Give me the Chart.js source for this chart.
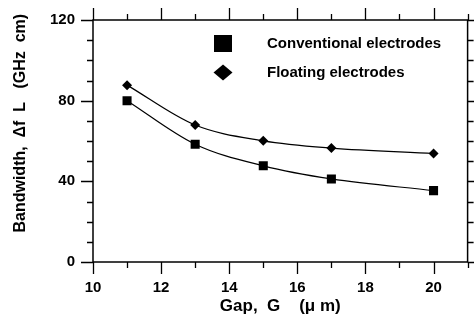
<!DOCTYPE html>
<html><head><meta charset="utf-8">
<script src="https://cdn.jsdelivr.net/npm/chart.js@4/dist/chart.umd.min.js"></script>
<style>html,body{margin:0;padding:0;background:#fff}#wrap{width:474px;height:324px}</style>
</head><body><div id="wrap"><canvas id="c" width="474" height="324"></canvas></div>
<script>
const gapUm = [11, 13, 15, 17, 20];
const conventional = [80.0, 58.4, 47.7, 41.2, 35.4];
const floating = [87.7, 67.9, 60.1, 56.5, 53.8];
const xTickLabels = [10, 12, 14, 16, 18, 20];
const yTickLabels = [0, 40, 80, 120];
const seriesNames = ['Conventional electrodes', 'Floating electrodes'];
const xTitle = 'Gap,  G    (\u03bc m)';
const yTitle = '        Bandwidth,  \u0394f  L   (GHz  cm)';

const FONT = '"Liberation Sans", Arial, sans-serif';
const CLEAR = 'rgba(0,0,0,0)';

const framePlugin = {
  id: 'frame',
  afterDraw(chart) {
    const {ctx, chartArea: a, scales: {x, y}} = chart;
    ctx.save();
    ctx.strokeStyle = '#000';
    ctx.lineWidth = 1.5;
    ctx.strokeRect(a.left, a.top, a.right - a.left, a.bottom - a.top);
    ctx.lineWidth = 1.3;
    ctx.beginPath();
    for (let v = x.min; v <= x.max + 1e-9; v += 1) {
      const px = Math.round(x.getPixelForValue(v)) + 0.5;
      const len = (v % 2 === 0) ? 12 : 6;
      ctx.moveTo(px, a.bottom); ctx.lineTo(px, a.bottom + len);
      ctx.moveTo(px, a.top); ctx.lineTo(px, a.top - len);
    }
    for (let v = y.min; v <= y.max + 1e-9; v += 10) {
      const py = Math.round(y.getPixelForValue(v)) + 0.5;
      const len = (v % 40 === 0) ? 12 : 6;
      ctx.moveTo(a.left, py); ctx.lineTo(a.left - len, py);
      ctx.moveTo(a.right, py); ctx.lineTo(a.right + len, py);
    }
    ctx.stroke();

    // legend inside plot
    const mx = a.left + 130, tx = a.left + 174;
    const rows = [a.top + 23.5, a.top + 52.5];
    ctx.fillStyle = '#000';
    ctx.fillRect(mx - 9, rows[0] - 8.5, 18, 17);
    ctx.beginPath();
    ctx.moveTo(mx - 9.5, rows[1]);
    ctx.lineTo(mx, rows[1] - 8);
    ctx.lineTo(mx + 9.5, rows[1]);
    ctx.lineTo(mx, rows[1] + 8);
    ctx.closePath();
    ctx.fill();
    ctx.font = 'bold 15px ' + FONT;
    ctx.textBaseline = 'middle';
    ctx.textAlign = 'left';
    chart.data.datasets.forEach((ds, i) => ctx.fillText(ds.label, tx, rows[i] + 0.5));
    ctx.restore();
  }
};

new Chart(document.getElementById('c'), {
  type: 'line',
  data: {
    datasets: [
      {
        label: seriesNames[0],
        data: gapUm.map((g, i) => ({x: g, y: conventional[i]})),
        borderColor: '#000', backgroundColor: '#000', borderWidth: 1.2,
        pointStyle: 'rect', pointRadius: 6.4, pointBorderWidth: 0,
        cubicInterpolationMode: 'monotone', fill: false
      },
      {
        label: seriesNames[1],
        data: gapUm.map((g, i) => ({x: g, y: floating[i]})),
        borderColor: '#000', backgroundColor: '#000', borderWidth: 1.2,
        pointStyle: 'rectRot', pointRadius: 5, pointBorderWidth: 0,
        cubicInterpolationMode: 'monotone', fill: false
      }
    ]
  },
  options: {
    responsive: false, animation: false, devicePixelRatio: 1,
    layout: {padding: {top: 20, right: 6, left: 0, bottom: 0}},
    plugins: {legend: {display: false}, tooltip: {enabled: false}},
    scales: {
      x: {
        type: 'linear', position: 'bottom', min: 10, max: 21,
        grid: {display: true, drawOnChartArea: false, drawTicks: true, tickLength: 17, color: CLEAR, tickColor: CLEAR},
        border: {display: false},
        afterBuildTicks: s => { s.ticks = xTickLabels.map(v => ({value: v})); },
        afterFit: s => { s.height = 62; },
        ticks: {color: '#000', padding: 0, font: {family: FONT, size: 15, weight: 'bold'}},
        title: {display: true, text: xTitle, color: '#000', padding: {top: 0, bottom: 7},
                font: {family: FONT, size: 17, weight: 'bold'}}
      },
      y: {
        type: 'linear', position: 'left', min: 0, max: 120,
        grid: {display: true, drawOnChartArea: false, drawTicks: true, tickLength: 18, color: CLEAR, tickColor: CLEAR},
        border: {display: false},
        afterBuildTicks: s => { s.ticks = yTickLabels.map(v => ({value: v})); },
        afterFit: s => { s.width = 93; },
        ticks: {color: '#000', padding: 0, font: {family: FONT, size: 15, weight: 'bold'}},
        title: {display: true, text: yTitle, color: '#000', align: 'center', padding: {top: 11, bottom: 0},
                font: {family: FONT, size: 16, weight: 'bold'}}
      }
    }
  },
  plugins: [framePlugin]
});
</script>
</body></html>
